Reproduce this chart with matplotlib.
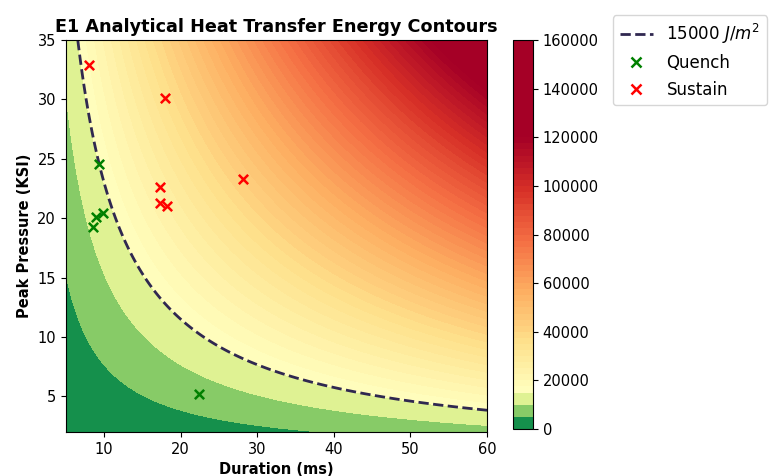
import numpy as np
import matplotlib
matplotlib.use("Agg")
import matplotlib.pyplot as plt
from matplotlib.colors import TwoSlopeNorm
from matplotlib.lines import Line2D

plt.rcParams["font.size"] = 10.5

# ----------------------------
# Analytical model: E = K * P * t  (J/m^2)
# ----------------------------
K_ENERGY = 65.2          # J/m^2 per (ksi * ms)
E_THRESHOLD = 15000      # quench / sustain boundary

duration_range = (5, 60)     # ms
pressure_range = (2, 35)     # ksi
# coarse bands below the threshold, fine bands above it
low_levels = [0, 5000, 10000]
high_levels = np.arange(15000, 160001, 2500)
energy_levels = np.concatenate([low_levels, high_levels])
cbar_ticks = np.arange(0, 160001, 20000)

# Test shots
quench_duration = [9.35, 9.0, 9.9, 8.6, 22.4]
quench_pressure = [24.6, 20.1, 20.4, 19.3, 5.2]
sustain_duration = [8.1, 18.0, 17.3, 17.3, 18.2, 28.2]
sustain_pressure = [32.9, 30.1, 22.6, 21.3, 21.0, 23.3]

t = np.linspace(*duration_range, 400)
p = np.linspace(*pressure_range, 400)
T, P = np.meshgrid(t, p)
E = K_ENERGY * P * T

fig = plt.figure(figsize=(7.77, 4.76), dpi=100)
ax = fig.add_axes([0.0846, 0.0924, 0.5422, 0.8235])
cax = fig.add_axes([0.660, 0.0987, 0.0257, 0.8172])

norm = TwoSlopeNorm(vmin=0, vcenter=E_THRESHOLD, vmax=120000)
cf = ax.contourf(T, P, E, levels=energy_levels, cmap="RdYlGn_r", norm=norm)
ax.contour(T, P, E, levels=[E_THRESHOLD], colors="#302850",
           linestyles="--", linewidths=2)

ax.scatter(quench_duration, quench_pressure, marker="x", color="green",
           s=45, linewidths=1.8, zorder=3)
ax.scatter(sustain_duration, sustain_pressure, marker="x", color="red",
           s=45, linewidths=1.8, zorder=3)

ax.set_xlim(*duration_range)
ax.set_ylim(*pressure_range)
ax.set_title("E1 Analytical Heat Transfer Energy Contours",
             fontweight="bold", fontsize=12.7)
ax.set_xlabel("Duration (ms)", fontweight="bold")
ax.set_ylabel("Peak Pressure (KSI)", fontweight="bold")

cb = fig.colorbar(cf, cax=cax, spacing="proportional")
cb.set_ticks(cbar_ticks)
cb.set_ticklabels([str(v) for v in cbar_ticks])

handles = [
    Line2D([], [], color="#302850", linestyle="--", linewidth=2),
    Line2D([], [], color="green", marker="x", linestyle="none",
           markersize=7, markeredgewidth=1.8),
    Line2D([], [], color="red", marker="x", linestyle="none",
           markersize=7, markeredgewidth=1.8),
]
labels = [f"{E_THRESHOLD} $J/m^2$", "Quench", "Sustain"]
fig.legend(handles, labels, loc="upper left", bbox_to_anchor=(0.789, 0.968),
           borderaxespad=0, fontsize=12)

fig.savefig("out.png", dpi=100)
